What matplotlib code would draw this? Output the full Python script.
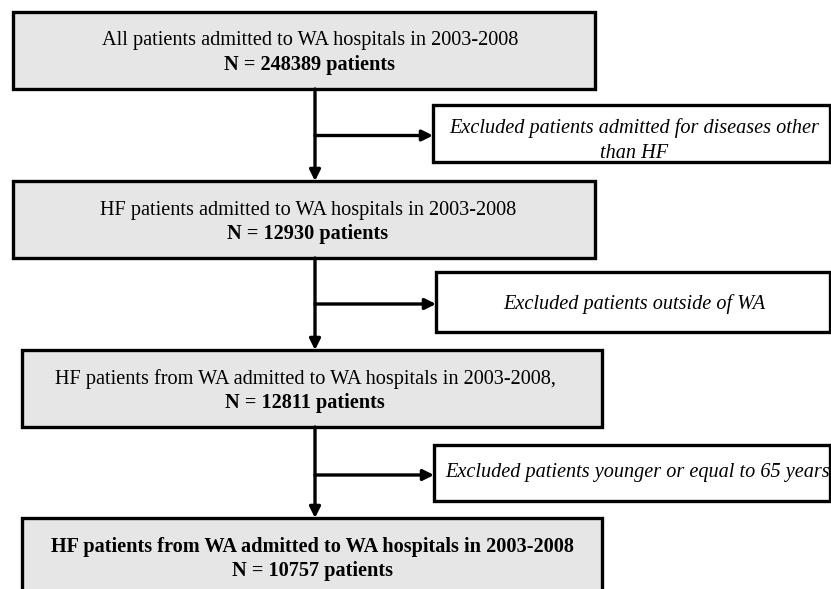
import matplotlib.pyplot as plt
from matplotlib.patches import Rectangle

# flowchart content
MAIN_LINES = [
    "All patients admitted to WA hospitals in 2003-2008",
    "HF patients admitted to WA hospitals in 2003-2008",
    "HF patients from WA admitted to WA hospitals in 2003-2008,",
    "HF patients from WA admitted to WA hospitals in 2003-2008",
]
MAIN_COUNTS = [248389, 12930, 12811, 10757]
EXCLUSIONS = [
    "Excluded patients admitted for diseases other\nthan HF",
    "Excluded patients outside of WA",
    "Excluded patients younger or equal to 65 years",
]

# layout in pixel units (y grows downward)
MAIN_BOXES = [(13, 12, 595, 89), (13, 181, 595, 258), (22, 350, 602, 427), (22, 518, 602, 610)]
TEXT_X = [310, 308, 305, 312]
SIDE_BOXES = [(433, 105, 830, 162), (436, 272, 830, 332), (434, 445, 830, 501)]
SPINE_X = 315
FONT = "Liberation Serif"
FILL = "#E6E6E6"
LW = 2.4
SIZE = 14.6

plt.rcParams["font.family"] = FONT
fig = plt.figure(figsize=(8.31, 5.89), dpi=100)
ax = fig.add_axes([0, 0, 1, 1])
ax.set_xlim(0, 831)
ax.set_ylim(589, 0)
ax.axis("off")

for i, (x0, y0, x1, y1) in enumerate(MAIN_BOXES):
    ax.add_patch(Rectangle((x0, y0), x1 - x0, y1 - y0, facecolor=FILL,
                           edgecolor="black", linewidth=LW, zorder=1))
    bold = i == len(MAIN_BOXES) - 1
    top = y0 + 29
    ax.text(TEXT_X[i], top, MAIN_LINES[i], ha="center", va="center", fontsize=SIZE,
            fontweight="bold" if bold else "normal")
    ax.text(TEXT_X[i], top + 24, f"N = {MAIN_COUNTS[i]} patients", ha="center",
            va="center", fontsize=SIZE, fontweight="bold")

for (x0, y0, x1, y1), label in zip(SIDE_BOXES, EXCLUSIONS):
    ax.add_patch(Rectangle((x0, y0), x1 - x0, y1 - y0, facecolor="white",
                           edgecolor="black", linewidth=LW, zorder=1))
    cy = (y0 + y1) / 2
    if "\n" in label:
        ax.text((x0 + x1) / 2 + 3, cy + 7, label, ha="center", va="center",
                fontsize=SIZE, style="italic", linespacing=1.4)
    elif len(label) > 40:
        ax.text(x0 + 11, cy, label, ha="left", va="center", fontsize=SIZE,
                style="italic")
    else:
        ax.text((x0 + x1) / 2 + 1, cy + 2, label, ha="center", va="center",
                fontsize=SIZE, style="italic")

arrow = dict(arrowstyle="-|>", color="black", lw=LW, mutation_scale=16,
             shrinkA=0, shrinkB=0)
for k in range(len(SIDE_BOXES)):
    y_from = MAIN_BOXES[k][3]
    y_to = MAIN_BOXES[k + 1][1]
    ax.annotate("", xy=(SPINE_X, y_to), xytext=(SPINE_X, y_from), arrowprops=arrow)
    sx0, sy0, _, sy1 = SIDE_BOXES[k]
    ay = (sy0 + sy1) / 2 + 2
    ax.annotate("", xy=(sx0, ay), xytext=(SPINE_X, ay), arrowprops=arrow)

fig.savefig("out.png", dpi=100)
